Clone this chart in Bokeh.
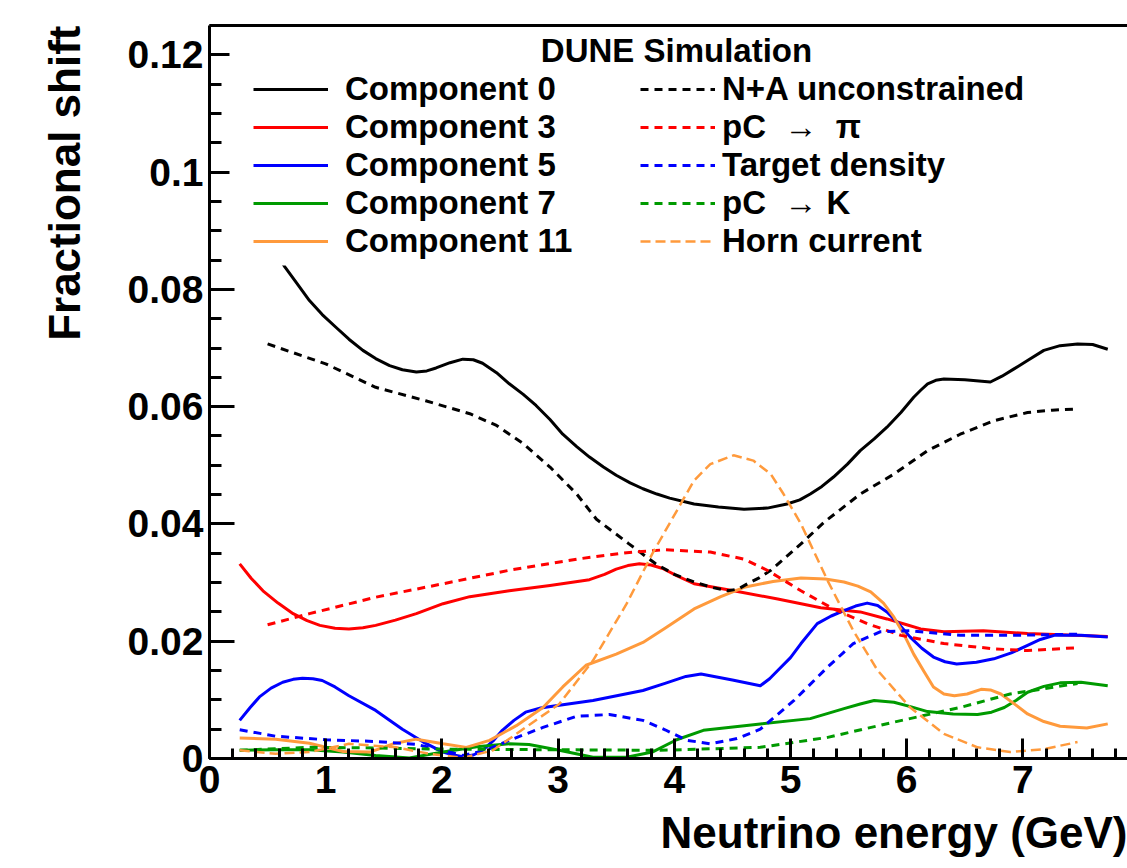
from bokeh.plotting import figure
from bokeh.models import (FixedTicker, LinearAxis, Legend, LegendItem, Label, BoxAnnotation, Title)
from bokeh.embed import file_html
from bokeh.resources import INLINE

# ---------------- data ----------------
comp0_E = [0.25, 0.45, 0.65, 0.76, 0.86, 0.97, 1.09, 1.20, 1.32, 1.43, 1.55, 1.66, 1.78, 1.87, 1.95,
           2.07, 2.18, 2.27, 2.35, 2.47, 2.58, 2.70, 2.81, 2.93, 3.04, 3.16, 3.27, 3.39, 3.50, 3.62,
           3.73, 3.85, 3.96, 4.17, 4.38, 4.60, 4.80, 4.97, 5.08, 5.17, 5.27, 5.37, 5.49, 5.60, 5.72,
           5.83, 5.95, 6.06, 6.12, 6.18, 6.25, 6.32, 6.50, 6.72, 6.82, 6.92, 7.05, 7.18, 7.32, 7.47,
           7.60, 7.73]
comp0 = [0.097, 0.090, 0.0838, 0.0808, 0.0781, 0.0757, 0.0735, 0.0715, 0.0696, 0.0682, 0.0670, 0.0663,
         0.0659, 0.0661, 0.0666, 0.0675, 0.0681, 0.0680, 0.0674, 0.0658, 0.0639, 0.0621, 0.0602, 0.0578,
         0.0553, 0.0532, 0.0514, 0.0497, 0.0483, 0.0470, 0.0460, 0.0451, 0.0444, 0.0434, 0.0429, 0.0425,
         0.0427, 0.0434, 0.0441, 0.0451, 0.0464, 0.0480, 0.0502, 0.0525, 0.0545, 0.0565, 0.0590, 0.0616,
         0.0628, 0.0639, 0.0645, 0.0647, 0.0646, 0.0642, 0.0652, 0.0664, 0.0680, 0.0696, 0.0704, 0.0707,
         0.0706, 0.0698]

comp3_E = [0.26, 0.36, 0.46, 0.59, 0.72, 0.84, 0.95, 1.08, 1.20, 1.32, 1.43, 1.60, 1.78, 2.01, 2.24,
           2.58, 2.93, 3.27, 3.40, 3.50, 3.60, 3.70, 3.80, 3.90, 4.02, 4.17, 4.51, 4.89, 5.26, 5.60,
           5.83, 6.00, 6.12, 6.32, 6.66, 7.04, 7.73]
comp3 = [0.0332, 0.0307, 0.0286, 0.0265, 0.0247, 0.0235, 0.0227, 0.0222, 0.0221, 0.0223, 0.0227, 0.0236,
         0.0247, 0.0264, 0.0276, 0.0286, 0.0295, 0.0305, 0.0314, 0.0323, 0.0329, 0.0332, 0.0330, 0.0324,
         0.0312, 0.0298, 0.0286, 0.0272, 0.0257, 0.0250, 0.0238, 0.0228, 0.0221, 0.0216, 0.0218, 0.0213,
         0.0208]

comp5_E = [0.26, 0.35, 0.43, 0.53, 0.63, 0.72, 0.80, 0.89, 0.97, 1.08, 1.20, 1.43, 1.66, 1.84, 2.01,
           2.10, 2.18, 2.27, 2.35, 2.44, 2.52, 2.62, 2.72, 2.85, 2.98, 3.30, 3.73, 3.92, 4.10, 4.23,
           4.50, 4.74, 4.82, 4.89, 5.00, 5.09, 5.23, 5.35, 5.46, 5.56, 5.66, 5.75, 5.83, 5.93, 6.03,
           6.13, 6.23, 6.33, 6.43, 6.60, 6.75, 6.90, 7.04, 7.15, 7.27, 7.50, 7.73]
comp5 = [0.0065, 0.0087, 0.0105, 0.0120, 0.0130, 0.0135, 0.0137, 0.0136, 0.0133, 0.0122, 0.0107, 0.0082,
         0.0050, 0.0028, 0.0011, 0.0006, 0.0003, 0.0006, 0.0014, 0.0030, 0.0048, 0.0065, 0.0079, 0.0086,
         0.0090, 0.0099, 0.0116, 0.0128, 0.0140, 0.0144, 0.0134, 0.0124, 0.0136, 0.0150, 0.0172, 0.0196,
         0.0230, 0.0243, 0.0252, 0.0260, 0.0265, 0.0261, 0.0250, 0.0230, 0.0207, 0.0188, 0.0173, 0.0165,
         0.0161, 0.0164, 0.0170, 0.0180, 0.0193, 0.0203, 0.0210, 0.0210, 0.0207]

comp7_E = [0.26, 0.57, 0.86, 1.15, 1.43, 1.72, 2.01, 2.30, 2.58, 2.75, 3.01, 3.30, 3.59, 3.81, 4.02,
           4.25, 4.74, 5.17, 5.46, 5.60, 5.72, 5.89, 6.04, 6.18, 6.40, 6.61, 6.73, 6.84, 6.94, 7.04,
           7.18, 7.32, 7.50, 7.73]
comp7 = [0.0014, 0.0015, 0.0015, 0.0011, 0.0005, 0.0001, 0.0011, 0.0020, 0.0025, 0.0024, 0.0014, 0.0002,
         0.0002, 0.0011, 0.0032, 0.0048, 0.0059, 0.0068, 0.0085, 0.0093, 0.0099, 0.0096, 0.0088, 0.0080,
         0.0076, 0.0075, 0.0079, 0.0087, 0.0099, 0.0113, 0.0123, 0.0129, 0.0130, 0.0124]

comp11_E = [0.26, 0.57, 0.86, 1.15, 1.38, 1.58, 1.78, 2.01, 2.21, 2.41, 2.64, 2.87, 3.04, 3.24, 3.50,
            3.73, 3.92, 4.17, 4.40, 4.60, 4.85, 5.09, 5.30, 5.46, 5.58, 5.69, 5.80, 5.89, 5.98, 6.06,
            6.15, 6.23, 6.32, 6.41, 6.52, 6.64, 6.72, 6.81, 6.92, 7.04, 7.18, 7.32, 7.55, 7.73]
comp11 = [0.0035, 0.0033, 0.0026, 0.0012, 0.0011, 0.0025, 0.0033, 0.0025, 0.0019, 0.0031, 0.0056, 0.0087,
          0.0122, 0.0159, 0.0178, 0.0198, 0.0222, 0.0255, 0.0276, 0.0292, 0.0302, 0.0308, 0.0306, 0.0301,
          0.0294, 0.0284, 0.0265, 0.0241, 0.0210, 0.0178, 0.0148, 0.0122, 0.0110, 0.0107, 0.0110, 0.0118,
          0.0117, 0.0110, 0.0094, 0.0076, 0.0063, 0.0055, 0.0052, 0.0059]

na_E = [0.50, 1.00, 1.43, 1.86, 2.24, 2.47, 2.70, 2.93, 3.16, 3.33, 3.61, 3.84, 4.00, 4.17, 4.32,
        4.46, 4.55, 4.63, 4.73, 4.83, 5.09, 5.29, 5.60, 5.89, 6.18, 6.46, 6.75, 7.04, 7.25, 7.47]
na = [0.0707, 0.0673, 0.0633, 0.0610, 0.0588, 0.0568, 0.0537, 0.0497, 0.0451, 0.0408, 0.0366, 0.0332,
      0.0314, 0.0301, 0.0292, 0.0286, 0.0289, 0.0298, 0.0308, 0.0321, 0.0366, 0.0403, 0.0451, 0.0485,
      0.0525, 0.0553, 0.0576, 0.0590, 0.0594, 0.0596]

pcpi_E = [0.50, 0.86, 1.43, 2.01, 2.58, 3.16, 3.59, 3.92, 4.31, 4.60, 4.80, 5.09, 5.37, 5.66, 5.95,
          6.32, 6.75, 7.04, 7.47]
pcpi = [0.0228, 0.0247, 0.0275, 0.0298, 0.0321, 0.0340, 0.0351, 0.0356, 0.0352, 0.0340, 0.0321, 0.0286,
        0.0255, 0.0230, 0.0210, 0.0196, 0.0187, 0.0184, 0.0189]

tgt_E = [0.26, 0.57, 1.00, 1.43, 1.78, 2.01, 2.18, 2.38, 2.58, 2.87, 3.16, 3.44, 3.73, 3.92, 4.11,
         4.31, 4.54, 4.74, 5.03, 5.32, 5.54, 5.77, 6.03, 6.46, 6.89, 7.47]
tgt = [0.0049, 0.0038, 0.0032, 0.0029, 0.0024, 0.0014, 0.0005, 0.0014, 0.0031, 0.0053, 0.0072, 0.0075,
       0.0065, 0.0049, 0.0031, 0.0025, 0.0034, 0.0050, 0.0099, 0.0156, 0.0196, 0.0216, 0.0218, 0.0210,
       0.0210, 0.0212]

pck_E = [0.26, 0.86, 1.43, 2.01, 2.87, 3.88, 4.74, 5.32, 5.89, 6.46, 6.89, 7.47]
pck = [0.0014, 0.0019, 0.0018, 0.0016, 0.0015, 0.0014, 0.0019, 0.0036, 0.0062, 0.0087, 0.0110, 0.0128]

horn_E = [0.26, 0.57, 0.86, 1.20, 1.61, 1.89, 2.18, 2.44, 2.72, 3.01, 3.30, 3.59, 3.81, 4.00, 4.17,
          4.31, 4.51, 4.68, 4.83, 4.94, 5.09, 5.32, 5.54, 5.75, 6.03, 6.32, 6.61, 6.89, 7.18, 7.47]
horn = [0.0014, 0.0008, 0.0011, 0.0025, 0.0019, 0.0008, 0.0001, 0.0014, 0.0053, 0.0093, 0.0167, 0.0264,
        0.0349, 0.0415, 0.0474, 0.0502, 0.0517, 0.0508, 0.0485, 0.0451, 0.0400, 0.0303, 0.0218, 0.0150,
        0.0087, 0.0042, 0.0019, 0.0011, 0.0016, 0.0028]

x_ticks = [0, 1, 2, 3, 4, 5, 6, 7]
y_ticks = [0, 0.02, 0.04, 0.06, 0.08, 0.10, 0.12]
y_tick_labels = ["0", "0.02", "0.04", "0.06", "0.08", "0.1", "0.12"]

solid_labels = ["Component 0", "Component 3", "Component 5", "Component 7", "Component 11"]
dashed_labels = ["N+A unconstrained", "pC  \u2192  \u03c0", "Target density", "pC  \u2192 K", "Horn current"]
title_text = "DUNE Simulation"
x_title = "Neutrino energy (GeV)"
y_title = "Fractional shift"

# ---------------- styling ----------------
FONT = "Liberation Sans"
BLACK, RED, BLUE, GREEN, ORANGE = "#000000", "#ff0000", "#0000ff", "#009a00", "#ff9a3c"

p = figure(width=1127, height=868, x_range=(0, 7.9), y_range=(0, 0.125),
           output_backend="svg", toolbar_location=None,
           min_border_left=209, min_border_right=0, min_border_top=25, min_border_bottom=110,
           background_fill_color="white", border_fill_color="white")
p.outline_line_color = None
p.xgrid.visible = False
p.ygrid.visible = False

# axes
xa = p.xaxis[0]
xa.ticker = FixedTicker(ticks=x_ticks, minor_ticks=[i * 0.2 for i in range(40)])
ya = p.yaxis[0]
ya.ticker = FixedTicker(ticks=y_ticks, minor_ticks=[i * 0.005 for i in range(26)])
ya.major_label_overrides = {t: l for t, l in zip(y_ticks, y_tick_labels)}

for ax in (xa, ya):
    ax.axis_line_width = 3
    ax.major_tick_line_width = 3
    ax.minor_tick_line_width = 3
    ax.major_tick_out = 0
    ax.minor_tick_out = 0
    ax.major_label_text_font = FONT
    ax.major_label_text_font_style = "bold"
    ax.major_label_text_font_size = "39px"
    ax.major_label_text_color = "black"

xa.major_tick_in = 20
xa.minor_tick_in = 10
ya.major_tick_in = 25
ya.minor_tick_in = 12
xa.major_label_standoff = 7
ya.major_label_standoff = 6

top_axis = LinearAxis(ticker=FixedTicker(ticks=[]), axis_line_width=3,
                      major_tick_line_color=None, minor_tick_line_color=None,
                      major_label_text_font_size="0px")
p.add_layout(top_axis, "above")

# axis titles (right / top aligned as in the ROOT original)
xt = Title(text=x_title, align="right", vertical_align="bottom", text_font=FONT,
           text_font_style="bold", text_font_size="44px", text_color="black",
           text_line_height=0.7, standoff=21)
yt = Title(text=y_title, align="right", text_font=FONT, text_font_style="bold",
           text_font_size="44px", text_color="black", standoff=72)
p.add_layout(xt, "below")
p.add_layout(yt, "left")

# ---------------- curves ----------------
LW = 3
DASH = "8 6"
r0 = p.line(comp0_E, comp0, line_color=BLACK, line_width=LW, line_join="round")
r3 = p.line(comp3_E, comp3, line_color=RED, line_width=LW, line_join="round")
r5 = p.line(comp5_E, comp5, line_color=BLUE, line_width=LW, line_join="round")
r7 = p.line(comp7_E, comp7, line_color=GREEN, line_width=LW, line_join="round")
r11 = p.line(comp11_E, comp11, line_color=ORANGE, line_width=LW, line_join="round")

d0 = p.line(na_E, na, line_color=BLACK, line_width=LW, line_dash=DASH)
d3 = p.line(pcpi_E, pcpi, line_color=RED, line_width=LW, line_dash=DASH)
d5 = p.line(tgt_E, tgt, line_color=BLUE, line_width=LW, line_dash=DASH)
d7 = p.line(pck_E, pck, line_color=GREEN, line_width=LW, line_dash=DASH)
d11 = p.line(horn_E, horn, line_color=ORANGE, line_width=2.5, line_dash="10 5")

# ---------------- legend (white box, title, two columns) ----------------
box = BoxAnnotation(left=20, right=850, bottom=493, top=728,
                    left_units="screen", right_units="screen",
                    bottom_units="screen", top_units="screen",
                    fill_color="white", fill_alpha=1.0, line_color=None)
p.add_layout(box)

def make_legend(labels, renderers, loc, standoff, size):
    lg = Legend(items=[LegendItem(label=l, renderers=[r]) for l, r in zip(labels, renderers)],
                location=loc, orientation="vertical",
                glyph_width=75, glyph_height=30, label_height=30, spacing=0,
                label_standoff=standoff, padding=0, margin=0,
                border_line_color=None, background_fill_alpha=0,
                label_text_font=FONT, label_text_font_style="bold",
                label_text_font_size=size, label_text_color="black")
    return lg

lg1 = make_legend(solid_labels, [r0, r3, r5, r7, r11], (44, 498), 17, "33px")
lg2 = make_legend(dashed_labels, [d0, d3, d5, d7, d11], (431, 498), 7, "33px")
p.add_layout(lg1)
p.add_layout(lg2)

title = Label(x=467, y=708, x_units="screen", y_units="screen", text=title_text,
              text_align="center", text_baseline="middle", text_font=FONT,
              text_font_style="bold", text_font_size="33px", text_color="black")
p.add_layout(title)

open("out.html", "w").write(file_html(p, INLINE))
